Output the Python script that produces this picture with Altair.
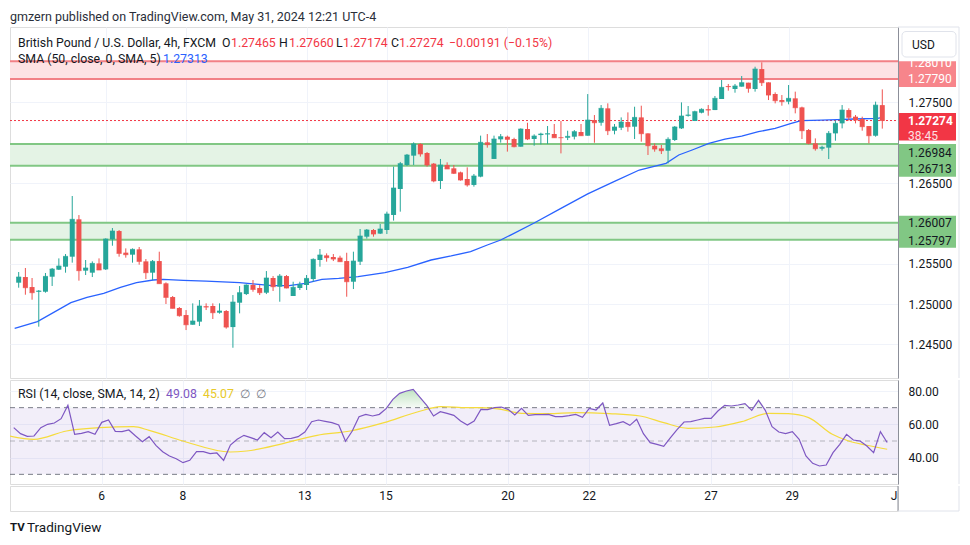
import altair as alt
import pandas as pd

# ---------------- data ----------------
# bar index 0 = Mon May 6 01:00 (4h bars, UTC-4); -13 = Wed May 1 21:00
bar_idx = list(range(-13, 117))
opens = [
    1.25265, 1.25335, 1.25211, 1.25153, 1.25153, 1.25339, 1.25426, 1.25463, 1.25587, 1.26050,
    1.25414, 1.25389, 1.25504, 1.25430, 1.25802, 1.25905, 1.25637, 1.25612, 1.25678, 1.25529,
    1.25389, 1.25533, 1.25257, 1.25087, 1.24951, 1.24864, 1.24744, 1.24782, 1.24972, 1.24976,
    1.24893, 1.24914, 1.24715, 1.25017, 1.25124, 1.25236, 1.25199, 1.25141, 1.25323, 1.25215,
    1.25347, 1.25100, 1.25199, 1.25236, 1.25310, 1.25546, 1.25603, 1.25583, 1.25575, 1.25533,
    1.25277, 1.25525, 1.25835, 1.25918, 1.25873, 1.25918, 1.26104, 1.26426, 1.26723, 1.26839,
    1.26984, 1.26872, 1.26740, 1.26525, 1.26723, 1.26682, 1.26632, 1.26550, 1.26476, 1.26579,
    1.27004, 1.26798, 1.27041, 1.27074, 1.27045, 1.26950, 1.27169, 1.27045, 1.27094, 1.27103,
    1.27107, 1.27065, 1.27061, 1.27074, 1.27132, 1.27086, 1.27280, 1.27247, 1.27425, 1.27148,
    1.27185, 1.27256, 1.27198, 1.27313, 1.27115, 1.26962, 1.26929, 1.26900, 1.27033, 1.27177,
    1.27334, 1.27268, 1.27371, 1.27413, 1.27404, 1.27541, 1.27702, 1.27665, 1.27694, 1.27743,
    1.27665, 1.27912, 1.27747, 1.27603, 1.27528, 1.27508, 1.27549, 1.27437, 1.27157, 1.26991,
    1.26925, 1.26938, 1.27115, 1.27239, 1.27404, 1.27322, 1.27293, 1.27206, 1.27086, 1.27465,
]
highs = [
    1.25397, 1.25447, 1.25323, 1.25174, 1.25385, 1.25447, 1.25566, 1.25620, 1.26339, 1.26103,
    1.25546, 1.25529, 1.25566, 1.25814, 1.25942, 1.25917, 1.25690, 1.25690, 1.25707, 1.25558,
    1.25546, 1.25649, 1.25269, 1.25100, 1.24963, 1.24926, 1.25009, 1.25050, 1.25009, 1.25009,
    1.25009, 1.24926, 1.25112, 1.25223, 1.25244, 1.25298, 1.25236, 1.25409, 1.25347, 1.25372,
    1.25360, 1.25277, 1.25277, 1.25360, 1.25566, 1.25682, 1.25628, 1.25620, 1.25599, 1.25636,
    1.25649, 1.25930, 1.25930, 1.25930, 1.25992, 1.26145, 1.26703, 1.26761, 1.26860, 1.27004,
    1.26992, 1.26884, 1.26748, 1.26798, 1.26756, 1.26723, 1.26641, 1.26694, 1.26612, 1.27087,
    1.27107, 1.27087, 1.27107, 1.27087, 1.27061, 1.27177, 1.27247, 1.27103, 1.27123, 1.27206,
    1.27231, 1.27268, 1.27148, 1.27156, 1.27231, 1.27602, 1.27342, 1.27466, 1.27487, 1.27231,
    1.27313, 1.27375, 1.27445, 1.27458, 1.27115, 1.26991, 1.26971, 1.27066, 1.27206, 1.27499,
    1.27454, 1.27396, 1.27425, 1.27466, 1.27578, 1.27776, 1.27727, 1.27727, 1.27826, 1.27743,
    1.27941, 1.27995, 1.27747, 1.27623, 1.27590, 1.27714, 1.27632, 1.27446, 1.27169, 1.27053,
    1.26962, 1.27144, 1.27272, 1.27466, 1.27425, 1.27342, 1.27322, 1.27206, 1.27508, 1.27660,
]
lows = [
    1.25203, 1.25116, 1.25054, 1.24720, 1.25141, 1.25224, 1.25422, 1.25389, 1.25513, 1.25290,
    1.25360, 1.25335, 1.25422, 1.25422, 1.25723, 1.25587, 1.25575, 1.25513, 1.25488, 1.25310,
    1.25298, 1.25253, 1.25001, 1.24947, 1.24844, 1.24678, 1.24744, 1.24728, 1.24926, 1.24815,
    1.24881, 1.24695, 1.24459, 1.24885, 1.25112, 1.25153, 1.25112, 1.25124, 1.25162, 1.25029,
    1.25195, 1.25100, 1.25174, 1.25174, 1.25277, 1.25463, 1.25525, 1.25533, 1.25525, 1.25091,
    1.25186, 1.25484, 1.25811, 1.25835, 1.25868, 1.25868, 1.26034, 1.26145, 1.26711, 1.26723,
    1.26827, 1.26703, 1.26509, 1.26426, 1.26674, 1.26612, 1.26529, 1.26455, 1.26455, 1.26571,
    1.26938, 1.26798, 1.27000, 1.26889, 1.26942, 1.26950, 1.27032, 1.26962, 1.26979, 1.26983,
    1.27061, 1.26867, 1.27032, 1.27040, 1.27086, 1.27086, 1.26999, 1.27210, 1.27094, 1.27103,
    1.27156, 1.27136, 1.27045, 1.27012, 1.26847, 1.26888, 1.26859, 1.26743, 1.27020, 1.27169,
    1.27322, 1.27268, 1.27363, 1.27334, 1.27404, 1.27541, 1.27644, 1.27619, 1.27694, 1.27619,
    1.27632, 1.27702, 1.27528, 1.27487, 1.27458, 1.27475, 1.27363, 1.27045, 1.26979, 1.26901,
    1.26901, 1.26797, 1.27024, 1.27177, 1.27272, 1.27239, 1.27148, 1.26991, 1.27074, 1.27174,
]
closes = [
    1.25335, 1.25203, 1.25141, 1.25162, 1.25343, 1.25434, 1.25471, 1.25591, 1.26050, 1.25414,
    1.25447, 1.25504, 1.25422, 1.25806, 1.25905, 1.25628, 1.25612, 1.25678, 1.25529, 1.25389,
    1.25529, 1.25253, 1.25083, 1.24947, 1.24856, 1.24744, 1.24790, 1.24976, 1.24963, 1.24893,
    1.24914, 1.24715, 1.25025, 1.25141, 1.25236, 1.25182, 1.25141, 1.25323, 1.25215, 1.25347,
    1.25199, 1.25207, 1.25244, 1.25318, 1.25554, 1.25608, 1.25575, 1.25558, 1.25525, 1.25277,
    1.25533, 1.25843, 1.25918, 1.25868, 1.25930, 1.26116, 1.26438, 1.26740, 1.26847, 1.26984,
    1.26860, 1.26723, 1.26525, 1.26723, 1.26674, 1.26620, 1.26537, 1.26476, 1.26587, 1.27004,
    1.26975, 1.27045, 1.27074, 1.27041, 1.26950, 1.27169, 1.27045, 1.27082, 1.27107, 1.27111,
    1.27061, 1.27061, 1.27078, 1.27136, 1.27086, 1.27280, 1.27247, 1.27425, 1.27148, 1.27194,
    1.27256, 1.27198, 1.27313, 1.27111, 1.26962, 1.26921, 1.26900, 1.27041, 1.27194, 1.27330,
    1.27343, 1.27384, 1.27413, 1.27404, 1.27549, 1.27685, 1.27694, 1.27702, 1.27743, 1.27673,
    1.27912, 1.27743, 1.27590, 1.27520, 1.27508, 1.27549, 1.27433, 1.27148, 1.26991, 1.26925,
    1.26942, 1.27115, 1.27239, 1.27404, 1.27314, 1.27280, 1.27198, 1.27086, 1.27465, 1.27274,
]

# SMA(50) line, read at points along the curve
sma_idx = [-13.6, -10.2, -5.2, -2.8, -0.3, 2.2, 4.6, 7.1, 8.6, 11.6, 15, 20, 22.4, 24.9, 27.4,
           29.8, 32.3, 34.8, 37.7, 41.7, 45.1, 48.6, 51.6, 54.5, 57, 59, 60.4, 64, 68, 72, 76,
           79.7, 83.7, 85.6, 87.6, 90.1, 92.5, 95, 97.5, 100, 102.4, 103.9, 106.9, 109.3, 111.8,
           115.3, 116]
sma_val = [1.24699, 1.24782, 1.25017, 1.25083, 1.25133, 1.25207, 1.25265, 1.25298, 1.25306,
           1.25294, 1.25285, 1.25265, 1.25248, 1.25228, 1.25228, 1.25257, 1.25306, 1.25318,
           1.25340, 1.25390, 1.25455, 1.25546, 1.25596, 1.25650, 1.25732, 1.25794, 1.25852,
           1.26005, 1.26185, 1.26365, 1.26520, 1.26661, 1.26744, 1.26847, 1.26909, 1.26991,
           1.27045, 1.27082, 1.27136, 1.27177, 1.27239, 1.27272, 1.27280, 1.27285, 1.27293,
           1.27301, 1.27313]

# RSI(14), one value per bar
rsi_vals = [
    58, 54.4, 52.8, 53, 58, 60, 60.8, 63.4, 71.4, 54,
    54.6, 55.6, 54, 61.2, 62.6, 55.8, 55.6, 56.6, 53, 49.6,
    52.6, 47.4, 43.6, 41, 39.4, 37, 38.4, 43.6, 43.6, 42.4,
    42.8, 38.4, 47.6, 51, 53.4, 52, 50.6, 55, 52, 55.4,
    51.4, 51.6, 52.6, 55.4, 61.6, 62.6, 61.8, 61, 59.6, 49.8,
    56, 64.6, 66, 65, 66, 69.4, 75, 78.6, 80, 81,
    76.2, 71.4, 65, 67.6, 66.6, 65.4, 62, 59.6, 62, 69,
    68.8, 70, 70.4, 69, 65.6, 69.6, 65.4, 65.8, 65.8, 66,
    64.6, 64.6, 65.2, 66, 64.2, 69.6, 68.6, 72.8, 59.4, 60.4,
    61.6, 59.4, 63, 54.4, 49, 48, 46.8, 52, 57, 61.4,
    61.6, 62.6, 63.6, 63.6, 68, 71.4, 71, 71.6, 72.4, 68.4,
    74.4, 68.4, 58.6, 55.4, 54.4, 55.6, 51, 41, 36.6, 35,
    35.6, 43, 48, 54, 50.6, 50, 47, 43, 55.6, 49.08,
]
# RSI-based SMA(14)
rsi_ma_idx = [-13.6, -10, -5.2, -0.3, 4.7, 7, 12, 19, 21.4, 26.9, 31.8, 36.7, 41.7, 46.6, 50.1,
              54, 56, 59, 62, 66, 70, 75, 79.5, 83, 86.6, 90.6, 94.5, 98.5, 101.4, 104.4, 107.9,
              110.3, 112.8, 116]
rsi_ma_val = [53, 51, 56, 58, 58.6, 56.4, 50, 43.4, 44, 48.6, 53.4, 56, 61, 67.4, 70.6, 70, 70,
              69, 66.6, 66.4, 67, 66.4, 65, 61, 57.6, 58.4, 61.6, 66.6, 66.4, 64, 54, 50, 47.6,
              45.07]

date_tick_idx = [0, 12, 30, 42, 60, 72, 90, 102, 118]
date_tick_lab = ["6", "8", "13", "15", "20", "22", "27", "29", "Jun"]

price_ticks = [1.245, 1.250, 1.255, 1.260, 1.265, 1.270, 1.275, 1.280]
price_labeled = [1.245, 1.250, 1.255, 1.265, 1.275]
rsi_axis_ticks = [40, 60, 80]
rsi_levels = [70, 50, 30]

zones_hi = [1.28010, 1.26984, 1.26007]
zones_lo = [1.27790, 1.26713, 1.25797]
zone_kind = ["res", "sup", "sup"]

last_price = closes[-1]
countdown = "38:45"
sma_last = 1.27313
rsi_ma_last = 45.07

# ---------------- layout / style ----------------
W, H_MAIN, H_RSI, H_TIME = 888, 351, 104, 25
X_DOMAIN = [-13.55, 117.6]
P_DOMAIN = [1.24084, 1.28433]
R_DOMAIN = [24.2, 86.6]
FONT = "Roboto"
LEG = 12.3
TXT = "#131722"
GRID = "#F0F3FA"
FRAME = "#E0E3EB"
SCALE_LINE = "#8C8F99"
UP, DOWN = "#26A69A", "#EF5350"
RES_FILL, RES_LINE, RES_BOX = "#FDE2E4", "#F28086", "#F7858B"
SUP_FILL, SUP_LINE, SUP_BOX = "#E4F3E5", "#81C784", "#81C784"
LAST_RED = "#F23645"
SMA_BLUE = "#2962FF"
RSI_PURPLE = "#7E57C2"
RSI_YELLOW = "#F5DB3C"


def label(txt, x, y, color=TXT, size=LEG, weight="normal", align="left"):
    return alt.Chart(pd.DataFrame({"t": [txt]})).mark_text(
        align=align, baseline="middle", font=FONT, fontSize=size,
        fontWeight=weight, color=color
    ).encode(x=alt.value(x), y=alt.value(y), text="t:N")


def vrule(x, y0, y1, color=FRAME, width=1):
    return alt.Chart(pd.DataFrame({"k": [0]})).mark_rule(color=color, strokeWidth=width).encode(
        x=alt.value(x), y=alt.value(y0), y2=alt.value(y1))


def hrule(y, x0, x1, color=FRAME, width=1):
    return alt.Chart(pd.DataFrame({"k": [0]})).mark_rule(color=color, strokeWidth=width).encode(
        y=alt.value(y), x=alt.value(x0), x2=alt.value(x1))


xs = alt.Scale(domain=X_DOMAIN, nice=False, zero=False)
grid_vals = [v for v in date_tick_idx if X_DOMAIN[0] <= v <= X_DOMAIN[1]]
x_axis = alt.Axis(values=grid_vals, grid=True, gridColor=GRID, labels=False, ticks=False,
                  domain=False, title=None)


def X(f="i"):
    return alt.X(f"{f}:Q", scale=xs, axis=x_axis)


hidden = [v for v in price_ticks if v not in price_labeled]
cond = " || ".join(f"abs(datum.value - {v}) < 0.000001" for v in hidden)
label_expr = f"({cond}) ? '' : format(datum.value, '.5f')"

ps = alt.Scale(domain=P_DOMAIN, nice=False, zero=False)
p_axis = alt.Axis(orient="right", values=price_ticks, grid=True, gridColor=GRID, ticks=False,
                  domainColor=SCALE_LINE, labelPadding=10, labelFontSize=12, labelColor=TXT,
                  labelFont=FONT, labelExpr=label_expr, labelOverlap=False, title=None)


def PY(f):
    return alt.Y(f"{f}:Q", scale=ps, axis=p_axis)


candles = pd.DataFrame({"i": bar_idx, "o": opens, "h": highs, "l": lows, "c": closes})
col = alt.condition("datum.c >= datum.o", alt.value(UP), alt.value(DOWN))
zones = pd.DataFrame({"hi": zones_hi, "lo": zones_lo, "kind": zone_kind})
zcol_fill = alt.condition("datum.kind == 'res'", alt.value(RES_FILL), alt.value(SUP_FILL))
zcol_line = alt.condition("datum.kind == 'res'", alt.value(RES_LINE), alt.value(SUP_LINE))

zone_fill = alt.Chart(zones).mark_rect().encode(
    x=alt.value(0), x2=alt.value(W), y=PY("hi"), y2="lo", fill=zcol_fill)
zone_lines = alt.Chart(zones).transform_fold(["hi", "lo"], as_=["edge", "p"]).mark_rule(
    strokeWidth=2).encode(x=alt.value(0), x2=alt.value(W), y=PY("p"), color=zcol_line)

last_df = pd.DataFrame({"p": [last_price]})
last_rule = alt.Chart(last_df).mark_rule(color=LAST_RED, strokeDash=[2, 2], strokeWidth=1).encode(
    x=alt.value(0), x2=alt.value(W), y=PY("p"))

sma_df = pd.DataFrame({"i": sma_idx, "v": sma_val})
sma_line = alt.Chart(sma_df).mark_line(color=SMA_BLUE, strokeWidth=1.3, clip=True).encode(
    x=X(), y=PY("v"))

wicks = alt.Chart(candles).mark_rule(strokeWidth=1).encode(x=X(), y=PY("l"), y2="h", color=col)
bodies = alt.Chart(candles).mark_bar(size=5).encode(x=X(), y=PY("o"), y2="c", color=col)
dojis = alt.Chart(candles).mark_tick(orient="horizontal", size=5, thickness=1).encode(
    x=X(), y=PY("c"), color=col)

# right price-scale label boxes
BX0, BX1 = W + 1, W + 58
TX = W + 10


def zone_box(k, top_off, bot_off, off_hi, off_lo, fill, tcol):
    d = zones.iloc[[k]]
    box = alt.Chart(d).mark_rect(color=fill, yOffset=top_off, y2Offset=bot_off).encode(
        x=alt.value(BX0), x2=alt.value(BX1), y=PY("hi"), y2="lo")
    th = alt.Chart(d.assign(t=f"{zones_hi[k]:.5f}")).mark_text(
        align="left", baseline="middle", font=FONT, fontSize=12, color=tcol, yOffset=off_hi
    ).encode(x=alt.value(TX), y=PY("hi"), text="t:N")
    tl = alt.Chart(d.assign(t=f"{zones_lo[k]:.5f}")).mark_text(
        align="left", baseline="middle", font=FONT, fontSize=12, color=tcol, yOffset=off_lo
    ).encode(x=alt.value(TX), y=PY("lo"), text="t:N")
    return [box, th, tl]


boxes = []
boxes += zone_box(0, 0, 8, 2, 0.5, RES_BOX, "white")
boxes += zone_box(1, 0, 11, 9, 3.5, SUP_BOX, TXT)
boxes += zone_box(2, -7, 8, 0, 1, SUP_BOX, TXT)
last_box = alt.Chart(last_df).mark_rect(color=LAST_RED, yOffset=-7.5, y2Offset=20).encode(
    x=alt.value(BX0), x2=alt.value(BX1), y=PY("p"), y2="p")
last_txt = alt.Chart(last_df.assign(t=f"{last_price:.5f}")).mark_text(
    align="left", baseline="middle", font=FONT, fontSize=12, color="white", fontWeight="bold"
).encode(x=alt.value(TX), y=PY("p"), text="t:N")
cd_txt = alt.Chart(last_df.assign(t=countdown)).mark_text(
    align="left", baseline="middle", font=FONT, fontSize=12, color="#FDE0E2", yOffset=15.5
).encode(x=alt.value(TX), y=PY("p"), text="t:N")

usd_box = alt.Chart(pd.DataFrame({"k": [0]})).mark_rect(
    fill="white", stroke=FRAME, strokeWidth=1, cornerRadius=4).encode(
    x=alt.value(W + 4), x2=alt.value(W + 58), y=alt.value(4.5), y2=alt.value(30))

o_, h_, l_, c_ = opens[-1], highs[-1], lows[-1], closes[-1]
chg = c_ - o_
pct = chg / o_ * 100
legend = [
    label("gmzern published on TradingView.com, May 31, 2024 12:21 UTC-4", 0, -10, "#2A2E39", size=12.5),
    label("British Pound / U.S. Dollar, 4h, FXCM", 8, 16),
    label("O", 212, 16), label(f"{o_:.5f}", 221, 16, LAST_RED),
    label("H", 269, 16), label(f"{h_:.5f}", 279, 16, LAST_RED),
    label("L", 326, 16), label(f"{l_:.5f}", 333, 16, LAST_RED),
    label("C", 381, 16), label(f"{c_:.5f}", 389, 16, LAST_RED),
    label(f"\u2212{abs(chg):.5f} (\u2212{abs(pct):.2f}%)", 439, 16, LAST_RED),
    label("SMA (50, close, 0, SMA, 5)", 8, 32),
    label(f"{sma_last:.5f}", 153, 32, SMA_BLUE),
    label("USD", W + 14, 17.5, TXT, size=12),
]

main = alt.layer(
    zone_fill, zone_lines, last_rule, sma_line, wicks, bodies, dojis,
    *boxes, last_box, last_txt, cd_txt, usd_box, *legend,
    vrule(W + 61, 0, H_MAIN), hrule(0, W, W + 61),
).properties(width=W, height=H_MAIN)

# ---------------- RSI pane ----------------
rs = alt.Scale(domain=R_DOMAIN, nice=False, zero=False)
r_axis = alt.Axis(orient="right", values=rsi_axis_ticks, grid=True, gridColor=GRID, ticks=False,
                  domainColor=SCALE_LINE, labelPadding=10, labelFontSize=12, labelColor=TXT,
                  labelFont=FONT, format=".2f", labelOverlap=False, title=None)


def RY(f):
    return alt.Y(f"{f}:Q", scale=rs, axis=r_axis)


band = alt.Chart(pd.DataFrame({"top": [rsi_levels[0]], "bot": [rsi_levels[-1]]})).mark_rect(
    color=RSI_PURPLE, opacity=0.1).encode(x=alt.value(0), x2=alt.value(W), y=RY("top"), y2="bot")
lv = alt.Chart(pd.DataFrame({"lv": rsi_levels})).mark_rule(strokeDash=[5, 4], color="#787B86").encode(
    x=alt.value(0), x2=alt.value(W), y=RY("lv"),
    opacity=alt.condition("datum.lv == 50", alt.value(0.5), alt.value(1)))
rsi_df = pd.DataFrame({"i": bar_idx, "rsi": rsi_vals})
ob = alt.Chart(rsi_df).transform_calculate(
    top=f"max(datum.rsi, {rsi_levels[0]})", base=f"{rsi_levels[0]}"
).mark_area(
    clip=True,
    color=alt.Gradient(gradient="linear", x1=0, y1=0, x2=0, y2=1,
                       stops=[alt.GradientStop(color="rgba(76,175,80,0.35)", offset=0),
                              alt.GradientStop(color="rgba(76,175,80,0.05)", offset=1)])
).encode(x=X(), y=RY("top"), y2="base:Q")
rsi_ma = alt.Chart(pd.DataFrame({"i": rsi_ma_idx, "v": rsi_ma_val})).mark_line(
    color=RSI_YELLOW, strokeWidth=1.2, interpolate="monotone", clip=True).encode(x=X(), y=RY("v"))
rsi_line = alt.Chart(rsi_df).mark_line(color=RSI_PURPLE, strokeWidth=1.2, clip=True).encode(
    x=X(), y=RY("rsi"))
rsi_legend = [
    label("RSI (14, close, SMA, 14, 2)", 8, 14),
    label(f"{rsi_vals[-1]:.2f}", 156, 14, RSI_PURPLE),
    label(f"{rsi_ma_last:.2f}", 193, 14, "#E8C92A"),
    label("\u2205", 230, 14, "#787B86"),
    label("\u2205", 246, 14, "#787B86"),
]
rsi_panel = alt.layer(band, lv, ob, rsi_ma, rsi_line, *rsi_legend,
                      vrule(W + 61, 0, H_RSI)).properties(width=W, height=H_RSI)

# ---------------- time axis ----------------
time_df = pd.DataFrame({"i": date_tick_idx, "lab": date_tick_lab})
time_txt = alt.Chart(time_df).mark_text(
    clip=True, font=FONT, fontSize=12, color=TXT, baseline="middle"
).encode(x=alt.X("i:Q", scale=xs, axis=None), y=alt.value(10), text="lab:N")
logo = [
    label("TV", 0, 42, "#131722", size=11.5, weight="bold"),
    label("TradingView", 17, 42, "#131722", size=13.5),
]
time_panel = alt.layer(time_txt, *logo, vrule(W, 0, H_TIME, SCALE_LINE),
                       vrule(W + 61, 0, H_TIME), hrule(H_TIME, W, W + 61)).properties(
    width=W, height=H_TIME)

chart = alt.vconcat(main, rsi_panel, time_panel, spacing=0).properties(
    padding={"left": 0, "top": 2, "right": 0, "bottom": 0}
).configure_view(stroke=FRAME, strokeWidth=1).configure(background="white")

chart.save("out.html", embed_options={"renderer": "svg", "actions": False})
